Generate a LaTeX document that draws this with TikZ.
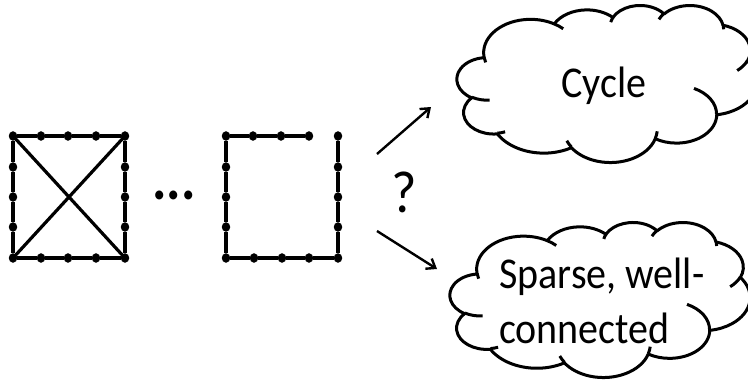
\documentclass[tikz,border=0pt]{standalone}
\usepackage{fontspec}
\setmainfont{Carlito}
\usetikzlibrary{arrows.meta}
\tikzset{
  dot/.style={circle,fill=black,draw=none,inner sep=0pt,minimum width=8.5pt,yscale=1.12},
  edge/.style={line width=3.2pt},
  cloudline/.style={line width=3pt,line join=round},
  arr/.style={line width=2.4pt,-{Straight Barb[length=8pt,width=12pt,line width=2.4pt]}},
  lbl/.style={font=\fontsize{40}{55}\selectfont,inner sep=0pt,yscale=1.1,transform shape}
}
\newcommand\mycloud[4]{%
\begin{scope}[shift={(#1,#2)},xscale=#3/432,yscale=#4/432]
\draw[cloudline,fill=white] (39.00,143.70)
 arc[start angle=172.25, end angle=300.37, x radius=67.53, y radius=91.90]
 arc[start angle=-152.02, end angle=-45.55, x radius=53.33, y radius=72.67]
 arc[start angle=-153.48, end angle=-37.33, x radius=43.65, y radius=59.45]
 arc[start angle=-139.71, end angle=-10.21, x radius=48.57, y radius=65.95]
 arc[start angle=-74.8, end angle=23.21, x radius=53.33, y radius=72.73]
 arc[start angle=-37.53, end angle=81.86, x radius=67.75, y radius=92.20]
 arc[start angle=0.46, end angle=122.0, x radius=57.85, y radius=78.67]
 arc[start angle=16.84, end angle=146.23, x radius=67.52, y radius=92.15]
 arc[start angle=59.04, end angle=150.15, x radius=77.20, y radius=105.43]
 arc[start angle=83.31, end angle=223.1, x radius=43.60, y radius=59.18]
 arc[start angle=120.4, end angle=264.1, x radius=43.45, y radius=59.45]
 -- cycle;
\draw[cloudline]
 (46.93,261.77) arc[start angle=85.54, end angle=120.4, x radius=43.45, y radius=59.45]
 (69.28,348.99) arc[start angle=68.26, end angle=83.31, x radius=43.60, y radius=59.18]
 (164.78,390.90) arc[start angle=146.23, end angle=158.47, x radius=67.52, y radius=92.15]
 (288.27,347.51) arc[start angle=4.74, end angle=16.84, x radius=67.52, y radius=92.15]
 (341.29,229.54) arc[start angle=-64.0, end angle=0.46, x radius=57.85, y radius=78.67]
 (417.98,153.54) arc[start angle=23.21, end angle=49.67, x radius=53.33, y radius=72.73]
 (383.24,54.26) arc[start angle=-10.21, end angle=0.82, x radius=48.57, y radius=65.95]
 (290.78,39.52) arc[start angle=-156.29, end angle=-139.71, x radius=48.57, y radius=65.95]
 (221.41,47.20) arc[start angle=-167.72, end angle=-153.48, x radius=43.65, y radius=59.45]
 (140.00,51.92) arc[start angle=-59.63, end angle=-45.75, x radius=67.53, y radius=91.90]
 (41.27,157.89) arc[start angle=163.18, end angle=172.25, x radius=67.53, y radius=91.90];
\end{scope}}
\begin{document}
\begin{tikzpicture}[x=1pt,y=-1pt]
\useasboundingbox (0,0) rectangle (748,384);
\clip (0,0) rectangle (748,384);
\fill[white] (0,0) rectangle (748,384);
% left graph
\foreach \n/\x in {1/13,2/41,3/68,4/96,5/125}{
  \node[dot] (t\n) at (\x,136) {};
  \node[dot] (b\n) at (\x,258) {};
}
\foreach \n/\y in {2/167,3/197,4/227}{
  \node[dot] (l\n) at (13,\y) {};
  \node[dot] (r\n) at (125,\y) {};
}
\draw[edge] (t1)--(t2)--(t3)--(t4)--(t5)--(r2)--(r3)--(r4)--(b5)--(b4)--(b3)--(b2)--(b1)--(l4)--(l3)--(l2)--(t1);
\draw[edge] (t1.center)--(b5.center);
\draw[edge] (t5.center)--(b1.center);
% ellipsis
\node[font=\fontsize{54}{60}\selectfont\bfseries,anchor=base,inner sep=0pt,yscale=1.12,transform shape] (dots) at (174,199) {...};
% right graph
\foreach \n/\x in {1/226,2/253,3/281,4/309}{
  \node[dot] (u\n) at (\x,136) {};
}
\node[dot] (u5) at (338,136) {};
\foreach \n/\x in {1/226,2/254,3/282,4/309,5/338}{
  \node[dot] (d\n) at (\x,258) {};
}
\foreach \n/\y in {2/167,3/197,4/227}{
  \node[dot] (p\n) at (226,\y) {};
  \node[dot] (q\n) at (338,\y) {};
}
\draw[edge] (u4)--(u3)--(u2)--(u1)--(p2)--(p3)--(p4)--(d1)--(d2)--(d3)--(d4)--(d5)--(q4)--(q3)--(q2)--(u5);
% question mark and arrows
\node[font=\fontsize{55}{60}\selectfont,inner sep=0pt,yscale=1.08,transform shape] (qm) at (404,192) {?};
\coordinate (a1s) at (377,154);
\coordinate (a1e) at (431,107);
\coordinate (a2s) at (377,231);
\coordinate (a2e) at (437,269);
\draw[arr] (a1s) -- (a1e);
\draw[arr] (a2s) -- (a2e);
% clouds
\mycloud{457}{5}{300}{157}
\mycloud{450}{222}{300}{155}
\node[lbl,anchor=base] (cyc) at (604,97) {Cycle};
\node[lbl,anchor=base west] (sp1) at (499,288) {Sparse, well-};
\node[lbl,anchor=base west] (sp2) at (499,343) {connected};
\end{tikzpicture}
\end{document}
